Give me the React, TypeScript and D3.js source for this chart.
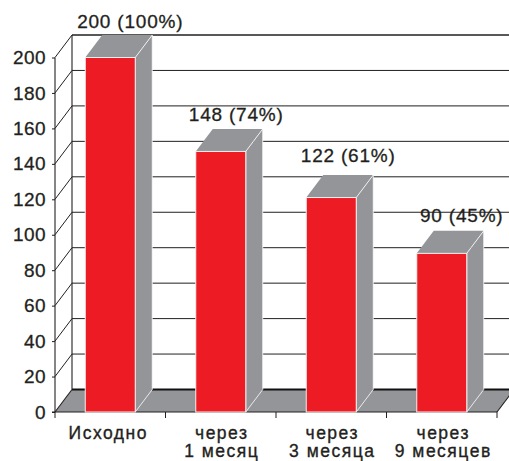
import { useEffect, useRef } from "react";
import * as d3 from "d3";

const categories = ["Исходно", "через\n1 месяц", "через\n3 месяца", "через\n9 месяцев"];
const values = [200, 148, 122, 90];
const percents = [100, 74, 61, 45];
// bar heights as they read against the axis, slightly under the printed values
const barHeights = [200, 147, 121, 89.5];
const yTicks = [0, 20, 40, 60, 80, 100, 120, 140, 160, 180, 200];

const width = 509;
const height = 461;
const depthX = 17;
const depthY = 22.5;
const barWidth = 50;
const red = "#ed1c24";
const gray = "#939598";
const ink = "#231f20";
const font = "'Liberation Sans', Arial, sans-serif";

// labels in the picture don't sit exactly centred over the bars
const labelShift = [
  [20, -29.5],
  [15.5, -30.4],
  [17, -35.5],
  [20, -31.4],
];
const categoryShift = [-2, 1, 1, 1.5];

export default function App() {
  const ref = useRef<SVGSVGElement>(null);

  useEffect(() => {
    const svg = d3.select(ref.current);
    svg.selectAll("*").remove();

    const x = d3.scaleBand<string>().domain(categories).range([55, 497]);
    const y = d3.scaleLinear().domain([0, 200]).range([412, 57.5]);

    const left = x.range()[0];
    const right = x.range()[1];
    const backLeft = left + depthX;
    const top = y(200) - depthY;
    const floorBack = y(0) - depthY;

    // back wall grid
    svg
      .append("g")
      .selectAll("line")
      .data(yTicks.slice(1))
      .join("line")
      .attr("x1", backLeft)
      .attr("x2", width)
      .attr("y1", (d) => y(d) - depthY)
      .attr("y2", (d) => y(d) - depthY)
      .attr("stroke", ink)
      .attr("stroke-width", 1);

    // left wall diagonals
    svg
      .append("g")
      .selectAll("line")
      .data(yTicks.slice(1))
      .join("line")
      .attr("x1", left)
      .attr("y1", (d) => y(d))
      .attr("x2", backLeft)
      .attr("y2", (d) => y(d) - depthY)
      .attr("stroke", ink)
      .attr("stroke-width", 1);

    // floor
    svg
      .append("polygon")
      .attr(
        "points",
        [
          [left, y(0)],
          [backLeft, floorBack],
          [right + depthX, floorBack],
          [right, y(0)],
        ].join(" ")
      )
      .attr("fill", gray);
    svg
      .append("line")
      .attr("x1", backLeft)
      .attr("x2", width)
      .attr("y1", floorBack)
      .attr("y2", floorBack)
      .attr("stroke", "#111")
      .attr("stroke-width", 2);

    // wall edges
    const edges = [
      [left, y(0), left, y(200)],
      [backLeft, floorBack, backLeft, top],
      [left, y(0), backLeft, floorBack],
      [right, y(0), right + depthX, floorBack],
      [left - 3, y(0), right, y(0)],
    ];
    svg
      .append("g")
      .selectAll("line")
      .data(edges)
      .join("line")
      .attr("x1", (d) => d[0])
      .attr("y1", (d) => d[1])
      .attr("x2", (d) => d[2])
      .attr("y2", (d) => d[3])
      .attr("stroke", ink)
      .attr("stroke-width", 1.1);

    // axes
    const yAxis = svg
      .append("g")
      .attr("transform", `translate(${left},0)`)
      .call(d3.axisLeft(y).tickValues(yTicks).tickSize(3).tickPadding(6));
    yAxis.select(".domain").remove();
    yAxis
      .selectAll("text")
      .attr("font-family", font)
      .attr("font-size", 19)
      .attr("letter-spacing", 0.4)
      .attr("fill", ink)
      .attr("stroke", ink)
      .attr("stroke-width", 0.3);
    yAxis.selectAll("line").attr("stroke", ink);

    svg
      .append("g")
      .selectAll("line")
      .data([...categories.map((c) => x(c)!), right])
      .join("line")
      .attr("x1", (d) => d)
      .attr("x2", (d) => d)
      .attr("y1", y(0))
      .attr("y2", y(0) + 6)
      .attr("stroke", ink);

    svg
      .append("line")
      .attr("x1", backLeft)
      .attr("x2", width)
      .attr("y1", top)
      .attr("y2", top)
      .attr("stroke", ink)
      .attr("stroke-width", 1);

    // bars
    const bars = svg
      .append("g")
      .selectAll("g")
      .data(categories)
      .join("g")
      .attr(
        "transform",
        (d) => `translate(${x(d)! + x.bandwidth() / 2 - barWidth / 2},0)`
      );

    bars
      .append("polygon")
      .attr("points", (_, i) => {
        const t = y(barHeights[i]);
        return [
          [0, t],
          [depthX, t - depthY],
          [barWidth + depthX, t - depthY],
          [barWidth, t],
        ].join(" ");
      })
      .attr("fill", gray);

    bars
      .append("polygon")
      .attr("points", (_, i) => {
        const t = y(barHeights[i]);
        return [
          [barWidth, t],
          [barWidth + depthX, t - depthY],
          [barWidth + depthX, y(0) - depthY],
          [barWidth, y(0)],
        ].join(" ");
      })
      .attr("fill", gray)
      .attr("stroke", "#fff")
      .attr("stroke-width", 0.8);

    bars
      .append("rect")
      .attr("x", 0)
      .attr("y", (_, i) => y(barHeights[i]))
      .attr("width", barWidth)
      .attr("height", (_, i) => y(0) - y(barHeights[i]))
      .attr("fill", red)
      .attr("stroke", "#f1f1f1")
      .attr("stroke-width", 1);

    // value labels
    svg
      .append("g")
      .selectAll("text")
      .data(categories)
      .join("text")
      .attr("x", (d, i) => x(d)! + x.bandwidth() / 2 + labelShift[i][0])
      .attr("y", (_, i) => y(barHeights[i]) + labelShift[i][1])
      .attr("text-anchor", "middle")
      .attr("font-family", font)
      .attr("font-size", 19)
      .attr("letter-spacing", 0.8)
      .attr("fill", ink)
      .attr("stroke", ink)
      .attr("stroke-width", 0.3)
      .text((_, i) => `${values[i]} (${percents[i]}%)`);

    // category labels
    const cat = svg
      .append("g")
      .selectAll("text")
      .data(categories)
      .join("text")
      .attr("text-anchor", "middle")
      .attr("font-family", font)
      .attr("font-size", 17.5)
      .attr("letter-spacing", 1.5)
      .attr("fill", ink)
      .attr("stroke", ink)
      .attr("stroke-width", 0.35);
    cat
      .selectAll("tspan")
      .data((d) =>
        d.split("\n").map((line, i) => ({ line, i, d, shift: categoryShift[categories.indexOf(d)] }))
      )
      .join("tspan")
      .attr("x", (t) => x(t.d)! + x.bandwidth() / 2 + t.shift)
      .attr("y", (t) => 439 + t.i * 18.3)
      .text((t) => t.line);
  }, []);

  return (
    <svg
      ref={ref}
      width={width}
      height={height}
      style={{ position: "absolute", left: 0, top: 0, background: "#fff" }}
    ></svg>
  );
}
